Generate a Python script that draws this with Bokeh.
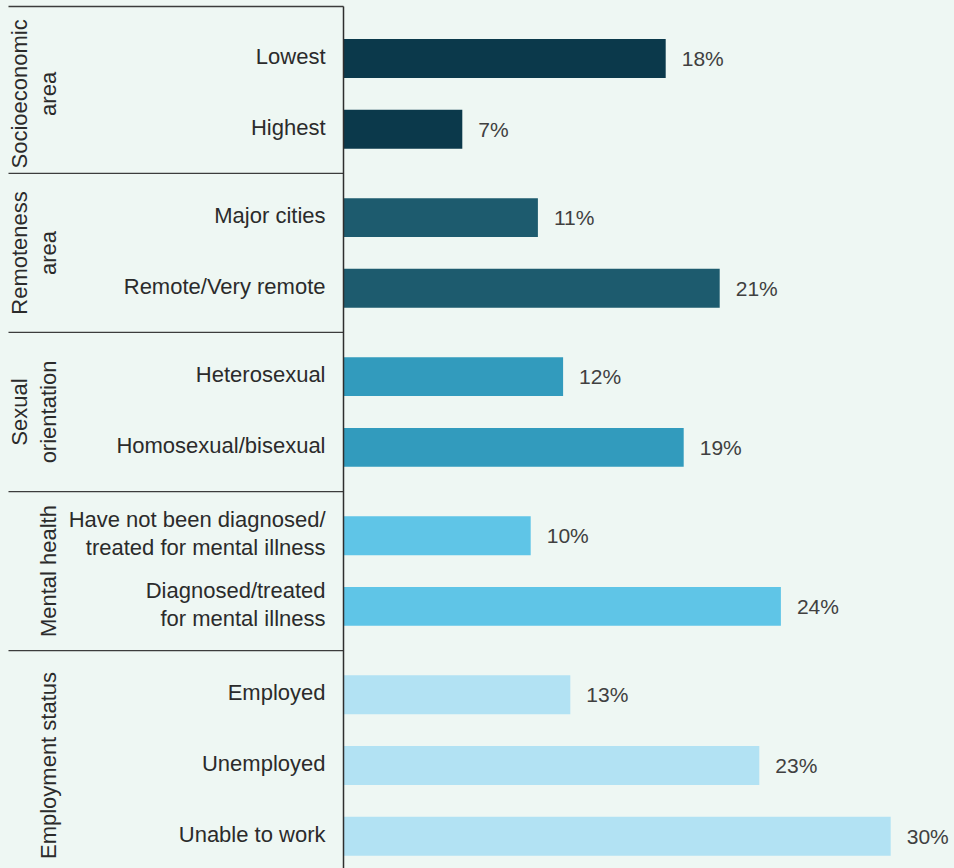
import math
from bokeh.plotting import figure
from bokeh.models import Range1d, ColumnDataSource
from bokeh.core.properties import value
from bokeh.embed import file_html
from bokeh.resources import INLINE

# ---- data ----
groups = ["Socioeconomic\narea", "Remoteness\narea", "Sexual\norientation",
          "Mental health", "Employment status"]
group_colors = ["#0b394b", "#1d5b6e", "#329bbd", "#5fc5e7", "#b2e2f3"]
categories = ["Lowest", "Highest", "Major cities", "Remote/Very remote",
              "Heterosexual", "Homosexual/bisexual",
              "Have not been diagnosed/\ntreated for mental illness",
              "Diagnosed/treated\nfor mental illness",
              "Employed", "Unemployed", "Unable to work"]
category_group = [0, 0, 1, 1, 2, 2, 3, 3, 4, 4, 4]
values = [17.9, 6.6, 10.8, 20.9, 12.2, 18.9, 10.4, 24.3, 12.6, 23.1, 30.4]
value_labels = ["18%", "7%", "11%", "21%", "12%", "19%", "10%", "24%", "13%", "23%", "30%"]

# ---- layout helpers ----
BG = "#eef7f3"
FONT = value("Liberation Sans")
W, H = 954, 868
px_per_unit_x = 18.0
px_per_unit_y = 70.7
left_px = 343
top_px = 58

ys = []
y = 0.0
for i, g in enumerate(category_group):
    if i > 0:
        y += 1.0 if g == category_group[i - 1] else 1.25
    ys.append(y)

x0 = -left_px / px_per_unit_x
x1 = x0 + W / px_per_unit_x
y_top = ys[0] - top_px / px_per_unit_y
y_bot = y_top + H / px_per_unit_y

p = figure(width=W, height=H, x_range=Range1d(x0, x1), y_range=Range1d(y_bot, y_top),
           output_backend="svg", toolbar_location=None, min_border=0,
           background_fill_color=BG, border_fill_color=BG, outline_line_color=None)
p.axis.visible = False
p.grid.visible = False

src = ColumnDataSource(dict(
    y=ys, v=values, cat=categories, lab=value_labels,
    color=[group_colors[g] for g in category_group]))

p.hbar(y="y", left=0, right="v", height=0.55, color="color", line_color=None, source=src)

p.text(x="v", y="y", text="lab", source=src, x_offset=16, text_baseline="middle",
       text_align="left", text_font=FONT, text_font_size="21px", text_color="#404040")

p.text(x=0, y="y", text="cat", source=src, x_offset=-18, y_offset=-2, text_baseline="middle",
       text_align="right", text_font=FONT, text_font_size="22px", text_color="#2b2b2b",
       text_line_height=1.1)

# group separators and group labels
n = len(groups)
first = [category_group.index(g) for g in range(n)]
last = [len(category_group) - 1 - category_group[::-1].index(g) for g in range(n)]
top_line = y_top + 6 / px_per_unit_y
sep_y = [top_line] + [(ys[last[g]] + ys[first[g + 1]]) / 2 for g in range(n - 1)]
sx0 = x0 + 8 / px_per_unit_x
p.segment(x0=[sx0] * len(sep_y), x1=[0] * len(sep_y), y0=sep_y, y1=sep_y,
          line_color="#3c3c3c", line_width=1.3)
p.segment(x0=[0], x1=[0], y0=[top_line], y1=[y_bot], line_color="#2e2e2e", line_width=1.5)

gy = [(ys[first[g]] + ys[last[g]]) / 2 for g in range(n)]
p.text(x=[0] * n, y=gy, text=groups, x_offset=-283, angle=math.pi / 2,
       text_align="center", text_baseline="bottom", text_font=FONT,
       text_font_size="22px", text_color="#2b2b2b", text_line_height=1.15)

html = file_html(p, INLINE)
html = html.replace("<head>", "<head><style>body{background:%s;}</style>" % BG, 1)
open("out.html", "w").write(html)
